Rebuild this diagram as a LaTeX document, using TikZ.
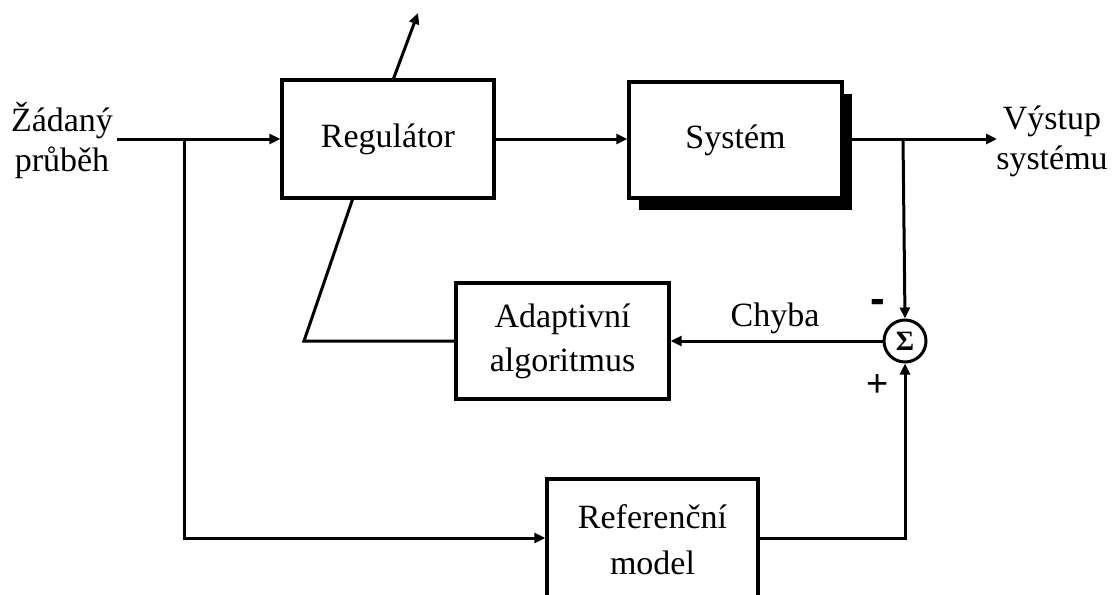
\documentclass[tikz,border=0pt]{standalone}
\usepackage{fontspec}
\setmainfont{Liberation Serif}
\newfontfamily\sansf{Liberation Sans}
\usetikzlibrary{arrows.meta,shadows}
\begin{document}
\begin{tikzpicture}[x=1pt,y=-1pt,
  block/.style={draw, line width=3.4pt, rectangle, fill=white, align=center, inner sep=0pt,
                font=\fontsize{34}{40}\selectfont},
  conn/.style={line width=3pt, -{Triangle[length=11pt,width=10pt]}},
  plain/.style={line width=3pt},
  lbl/.style={font=\fontsize{34}{40}\selectfont, align=center, inner sep=0pt}]
\clip (0,0) rectangle (1113,594);
\fill[white] (0,0) rectangle (1113,594);

% blocks
\node[block, minimum width=212pt, minimum height=118pt] (reg) at (388,139) {Regulátor};
\node[block, minimum width=213pt, minimum height=116pt,
      drop shadow={shadow xshift=10pt, shadow yshift=-12pt, opacity=1, fill=black}] (sys) at (735.5,140) {Systém};
\node[block, minimum width=213pt, minimum height=116pt] (ada) at (562.5,341) {Adaptivní\\[4pt]algoritmus};
\node[block, minimum width=211pt, minimum height=122pt] (ref) at (652.5,540) {Referenční\\[6pt]model};
\node[draw, circle, line width=3pt, minimum size=42pt, inner sep=0pt, fill=white,
      font=\fontsize{28}{30}\selectfont\bfseries] (sum) at (905,341) {Σ};

% labels
\node[lbl] (inlbl) at (62,141) {Žádaný\\průběh};
\node[lbl] (outlbl) at (1052,141) {Výstup\\systému};
\node[lbl] (chyba) at (775,318) {Chyba};
\node[font=\sansf\bfseries\fontsize{44}{48}\selectfont, inner sep=0pt] (minus) at (878,306) {-};
\node[font=\sansf\fontsize{38}{40}\selectfont, inner sep=0pt] (plus) at (878,386) {+};

% coordinates
\coordinate (in) at (117,139);
\coordinate (br1) at (184,139);
\coordinate (br1d) at (184,538);
\coordinate (out) at (997,139);
\coordinate (br2) at (903,139);
\coordinate (refr) at (905,538);
\coordinate (adl) at (304,341);
\coordinate (dlow) at (353,198);
\coordinate (dhigh) at (393,80);
\coordinate (dtip) at (418,13);

% connectors
\draw[conn] (in) -- (reg.west);
\draw[conn] (br1) -- (br1d) -- (ref.west |- br1d);
\draw[conn] (reg.east) -- (sys.west |- reg.east);
\draw[conn] (sys.east |- out) -- (out);
\draw[conn] (br2) -- (sum.north);
\draw[conn] (ref.east |- refr) -- (refr) -- (sum.south);
\draw[conn] (sum.west) -- (ada.east |- sum.west);
\draw[plain] (ada.west |- adl) -- (adl) -- (dlow);
\draw[conn] (dhigh) -- (dtip);
\end{tikzpicture}
\end{document}
